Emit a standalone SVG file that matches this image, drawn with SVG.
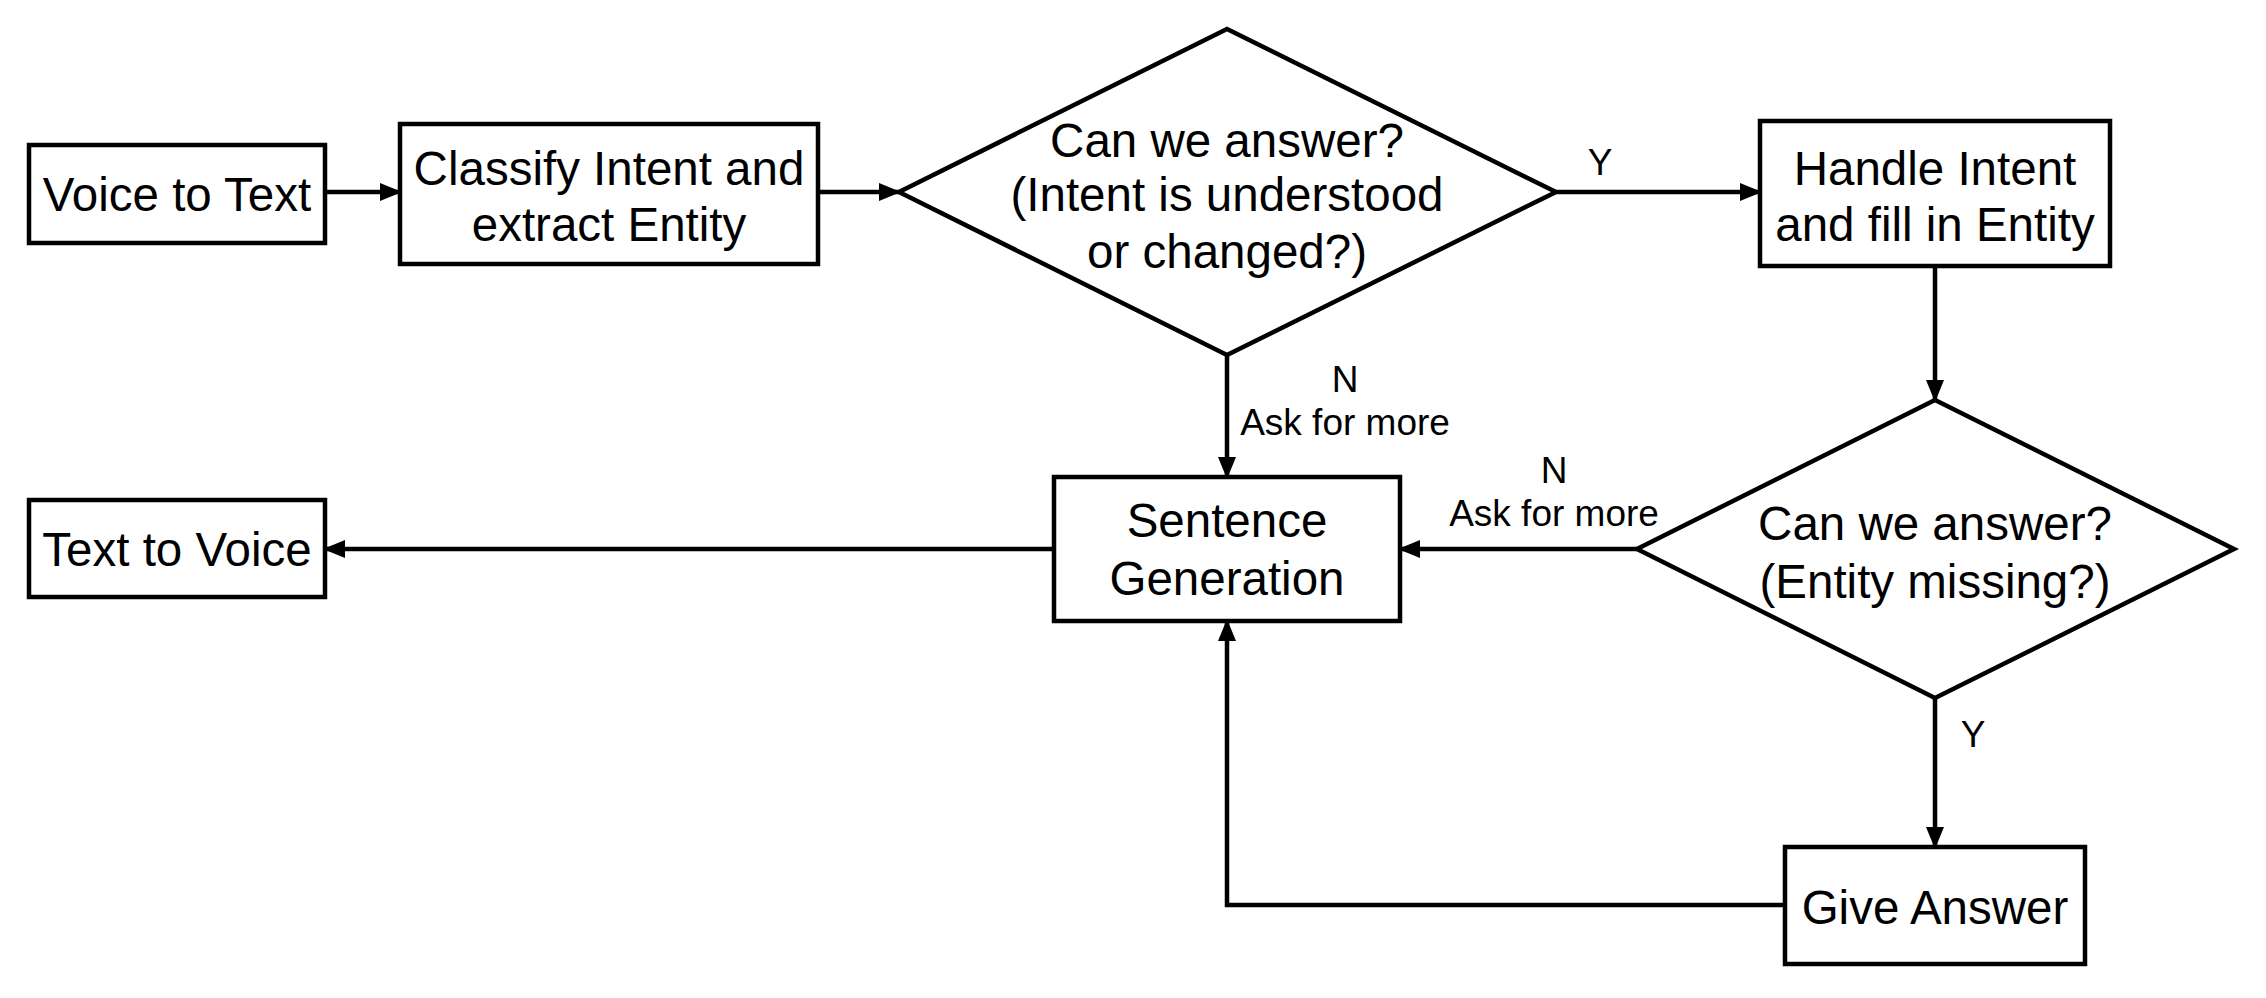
<svg xmlns="http://www.w3.org/2000/svg" width="2266" height="998" viewBox="0 0 2266 998">
<style>
.box{fill:#fff;stroke:#000;stroke-width:4.5}
.t{font-family:"Liberation Sans",Arial,sans-serif;font-size:47.5px;text-anchor:middle;fill:#000}
.l{font-family:"Liberation Sans",Arial,sans-serif;font-size:37px;text-anchor:middle;fill:#000}
.c{fill:none;stroke:#000;stroke-width:4.5}
</style>
<defs>
<marker id="ah" markerUnits="userSpaceOnUse" markerWidth="22" markerHeight="18" refX="20" refY="9" orient="auto">
<path d="M0,0 L22,9 L0,18 Z" fill="#000"/>
</marker>
</defs>
<rect width="2266" height="998" fill="#fff"/>
<g id="connectors">
<line class="c" x1="325" y1="192" x2="400" y2="192" marker-end="url(#ah)"/>
<line class="c" x1="818" y1="192" x2="899" y2="192" marker-end="url(#ah)"/>
<line class="c" x1="1556" y1="192" x2="1760" y2="192" marker-end="url(#ah)"/>
<line class="c" x1="1935" y1="266" x2="1935" y2="400" marker-end="url(#ah)"/>
<line class="c" x1="1227" y1="355" x2="1227" y2="477" marker-end="url(#ah)"/>
<line class="c" x1="1637" y1="549" x2="1400" y2="549" marker-end="url(#ah)"/>
<line class="c" x1="1054" y1="549" x2="325" y2="549" marker-end="url(#ah)"/>
<line class="c" x1="1935" y1="698" x2="1935" y2="847" marker-end="url(#ah)"/>
<polyline class="c" points="1785,905 1227,905 1227,621" marker-end="url(#ah)"/>
<text class="l" x="1600" y="175">Y</text>
<text class="l" x="1345" y="392">N</text>
<text class="l" x="1345" y="435">Ask for more</text>
<text class="l" x="1554" y="483">N</text>
<text class="l" x="1554" y="526">Ask for more</text>
<text class="l" x="1973" y="747">Y</text>
</g>
<g id="voice-to-text">
<rect class="box" x="29" y="145" width="296" height="98"/>
<text class="t" x="177" y="211">Voice to Text</text>
</g>
<g id="classify">
<rect class="box" x="400" y="124" width="418" height="140"/>
<text class="t" x="609" y="185">Classify Intent and</text>
<text class="t" x="609" y="241">extract Entity</text>
</g>
<g id="decision-intent">
<polygon class="box" points="1227,29 1556,192 1227,355 899,192"/>
<text class="t" x="1227" y="157">Can we answer?</text>
<text class="t" x="1227" y="211">(Intent is understood</text>
<text class="t" x="1227" y="268">or changed?)</text>
</g>
<g id="handle-intent">
<rect class="box" x="1760" y="121" width="350" height="145"/>
<text class="t" x="1935" y="185">Handle Intent</text>
<text class="t" x="1935" y="241">and fill in Entity</text>
</g>
<g id="decision-entity">
<polygon class="box" points="1935,400 2234,549 1935,698 1637,549"/>
<text class="t" x="1935" y="540">Can we answer?</text>
<text class="t" x="1935" y="598">(Entity missing?)</text>
</g>
<g id="sentence-generation">
<rect class="box" x="1054" y="477" width="346" height="144"/>
<text class="t" x="1227" y="537">Sentence</text>
<text class="t" x="1227" y="595">Generation</text>
</g>
<g id="text-to-voice">
<rect class="box" x="29" y="500" width="296" height="97"/>
<text class="t" x="177" y="566">Text to Voice</text>
</g>
<g id="give-answer">
<rect class="box" x="1785" y="847" width="300" height="117"/>
<text class="t" x="1935" y="924">Give Answer</text>
</g>
</svg>
